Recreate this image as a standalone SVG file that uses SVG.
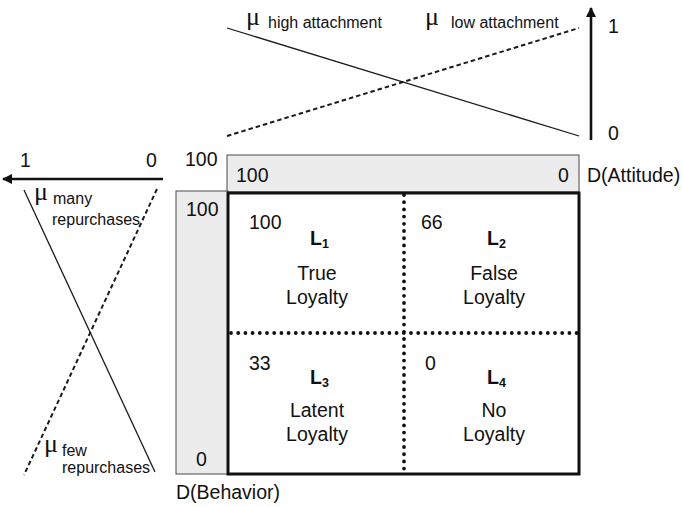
<svg xmlns="http://www.w3.org/2000/svg" width="682" height="507" viewBox="0 0 682 507">
  <style>
    text { font-family: "Liberation Sans", Arial, sans-serif; fill: #111; }
    .t19 { font-size: 19.5px; }
    .t16 { font-size: 16px; }
    .mid { text-anchor: middle; }
    .mu { font-family: "Liberation Serif", "Times New Roman", serif; font-size: 26px; }
    .lbl { font-size: 19.5px; font-weight: bold; }
    .sub { font-size: 12.5px; font-weight: bold; }
    .bar { fill: #ececec; stroke: #4a4a4a; stroke-width: 1; }
    .solid { stroke: #1a1a1a; stroke-width: 1.3; fill: none; }
    .dash { stroke: #1a1a1a; stroke-width: 2; stroke-dasharray: 4.5 3; fill: none; }
    .axis { stroke: #111; stroke-width: 2.6; fill: none; }
    .dots { stroke: #111; stroke-width: 3.8; stroke-linecap: round; stroke-dasharray: 0 7.2; fill: none; }
  </style>
  <defs>
    <marker id="arrow" viewBox="0 0 10 10" refX="9" refY="5" markerWidth="4" markerHeight="4" orient="auto">
      <path d="M0,0 L10,5 L0,10 z" fill="#111"/>
    </marker>
  </defs>

  <!-- membership functions for attitude (top) -->
  <g id="attitude-membership">
    <line class="solid" x1="227" y1="28" x2="579" y2="136"/>
    <line class="dash" x1="227" y1="136" x2="579" y2="28"/>
    <text class="mu" x="246" y="25">μ</text>
    <text class="t16" x="268" y="28">high attachment</text>
    <text class="mu" x="425" y="25">μ</text>
    <text class="t16" x="451" y="28">low attachment</text>
  </g>

  <!-- membership functions for behavior (left) -->
  <g id="behavior-membership">
    <line class="solid" x1="24" y1="190" x2="155" y2="472"/>
    <line class="dash" x1="157" y1="189" x2="24" y2="475"/>
    <text class="mu" x="34" y="200">μ</text>
    <text class="t16" x="53" y="204">many</text>
    <text class="t16" x="52" y="225">repurchases</text>
    <text class="mu" x="44" y="452">μ</text>
    <text class="t16" x="62" y="456">few</text>
    <text class="t16" x="62" y="473">repurchases</text>
  </g>

  <!-- membership axes -->
  <g id="axes">
    <line class="axis" x1="591" y1="140" x2="591" y2="8" marker-end="url(#arrow)"/>
    <text class="t19" x="608" y="33">1</text>
    <text class="t19" x="608" y="140">0</text>
    <line class="axis" x1="163" y1="179" x2="3" y2="179" marker-end="url(#arrow)"/>
    <text class="t19" x="20" y="167">1</text>
    <text class="t19" x="146" y="167">0</text>
  </g>

  <!-- degree scales -->
  <g id="attitude-scale">
    <rect class="bar" x="227" y="155" width="352" height="37"/>
    <text class="t19" x="185" y="166">100</text>
    <text class="t19" x="236" y="182">100</text>
    <text class="t19" x="558" y="182">0</text>
    <text class="t19" x="587" y="182">D(Attitude)</text>
  </g>
  <g id="behavior-scale">
    <rect class="bar" x="176" y="191" width="52" height="283"/>
    <text class="t19" x="186" y="216">100</text>
    <text class="t19" x="196" y="466">0</text>
    <text class="t19" x="176" y="499">D(Behavior)</text>
  </g>

  <!-- quadrant grid -->
  <g id="grid">
    <rect x="228" y="193" width="351" height="281" fill="#fff" stroke="#111" stroke-width="3"/>
    <line class="dots" x1="404" y1="195" x2="404" y2="472"/>
    <line class="dots" x1="231" y1="333" x2="577" y2="333"/>
  </g>

  <g id="L1">
    <text class="t19" x="249" y="229">100</text>
    <text class="lbl" x="310" y="245">L<tspan class="sub" dy="3">1</tspan></text>
    <text class="t19 mid" x="317" y="280">True</text>
    <text class="t19 mid" x="317" y="304">Loyalty</text>
  </g>
  <g id="L2">
    <text class="t19" x="421" y="229">66</text>
    <text class="lbl" x="487" y="245">L<tspan class="sub" dy="3">2</tspan></text>
    <text class="t19 mid" x="494" y="280">False</text>
    <text class="t19 mid" x="494" y="304">Loyalty</text>
  </g>
  <g id="L3">
    <text class="t19" x="249" y="370">33</text>
    <text class="lbl" x="310" y="384">L<tspan class="sub" dy="3">3</tspan></text>
    <text class="t19 mid" x="317" y="417">Latent</text>
    <text class="t19 mid" x="317" y="441">Loyalty</text>
  </g>
  <g id="L4">
    <text class="t19" x="425" y="370">0</text>
    <text class="lbl" x="487" y="384">L<tspan class="sub" dy="3">4</tspan></text>
    <text class="t19 mid" x="494" y="417">No</text>
    <text class="t19 mid" x="494" y="441">Loyalty</text>
  </g>
</svg>
